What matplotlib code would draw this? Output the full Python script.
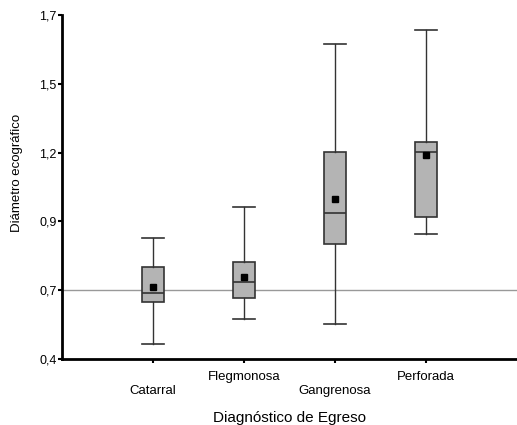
import matplotlib
matplotlib.use('Agg')
import matplotlib.pyplot as plt

plt.rcParams['font.family'] = ['Liberation Sans', 'DejaVu Sans']

# values on the chart's own y scale (0,4 .. 1,7)
categories = ['Catarral', 'Flegmonosa', 'Gangrenosa', 'Perforada']
whisker_low = [0.459, 0.551, 0.532, 0.874]
q1 = [0.617, 0.629, 0.835, 0.938]
median = [0.651, 0.690, 0.953, 1.181]
q3 = [0.749, 0.768, 1.181, 1.219]
whisker_high = [0.858, 0.973, 1.590, 1.641]
mean = [0.671, 0.709, 1.004, 1.171]

y_ticks = [0.4, 0.66, 0.92, 1.18, 1.44, 1.7]
y_ticklabels = ['0,4', '0,7', '0,9', '1,2', '1,5', '1,7']
ref_value = 0.66

stats = []
for i in range(len(categories)):
    stats.append({'label': categories[i], 'whislo': whisker_low[i], 'q1': q1[i],
                  'med': median[i], 'q3': q3[i], 'whishi': whisker_high[i],
                  'mean': mean[i]})

fig = plt.figure(figsize=(5.17, 4.25), dpi=100)
ax = fig.add_axes([0.12, 0.155, 0.88, 0.81])

ax.axhline(ref_value, color='#999999', lw=1.0, zorder=0)

positions = list(range(1, len(categories) + 1))
ax.bxp(stats, positions=positions, widths=0.24, showmeans=True, patch_artist=True,
       showfliers=False,
       boxprops=dict(facecolor='#b4b4b4', edgecolor='#333333', lw=1.2),
       medianprops=dict(color='#333333', lw=1.2),
       whiskerprops=dict(color='#333333', lw=1.0),
       capprops=dict(color='#333333', lw=1.2),
       capwidths=0.24,
       meanprops=dict(marker='s', markerfacecolor='black', markeredgecolor='black',
                      markersize=4))

ax.set_xlim(0, 5)
ax.set_ylim(0.4, 1.7)
ax.set_yticks(y_ticks)
ax.set_yticklabels(y_ticklabels, fontsize=9)
ax.set_xticks(positions)
ax.set_xticklabels([])
for i, name in enumerate(categories):
    off = 0.092 if i % 2 == 0 else 0.052
    ax.text(positions[i], -off, name, transform=ax.get_xaxis_transform(),
            ha='center', va='center', fontsize=9.5)

for s in ['top', 'right']:
    ax.spines[s].set_visible(False)
for s in ['left', 'bottom']:
    ax.spines[s].set_linewidth(2)
ax.tick_params(axis='both', direction='out', length=3, width=1.5, pad=1)

ax.set_ylabel('Diámetro ecográfico', fontsize=9.5)
ax.yaxis.set_label_coords(-0.086, 0.54)
fig.text(0.56, 0.016, 'Diagnóstico de Egreso', ha='center', va='center', fontsize=11)

fig.savefig('out.png', dpi=100)
